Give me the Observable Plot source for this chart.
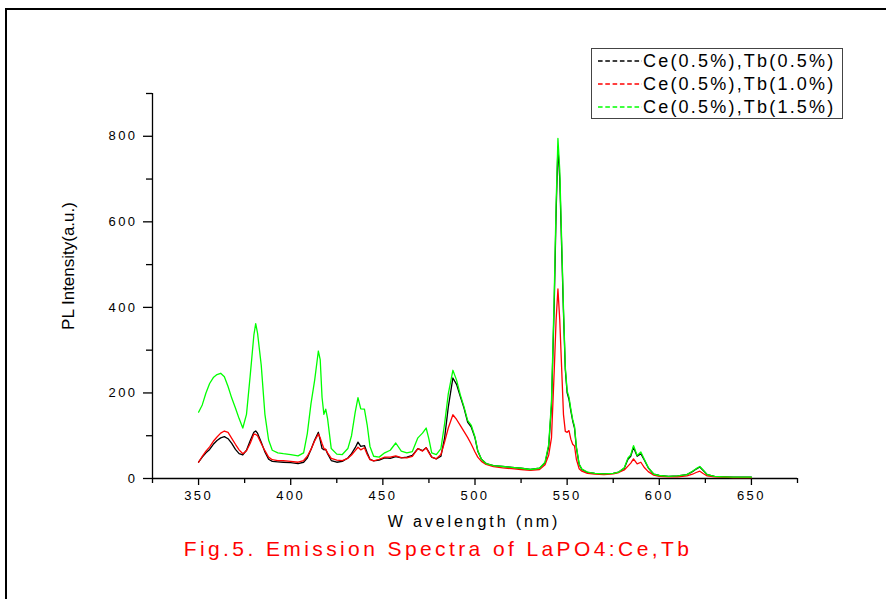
<!DOCTYPE html>
<html><head><meta charset="utf-8">
<script src="https://cdn.jsdelivr.net/npm/d3@7"></script>
<script src="https://cdn.jsdelivr.net/npm/@observablehq/plot@0.6"></script>
<style>
body{margin:0;background:#fff;font-family:"Liberation Sans",Arial,sans-serif;}
#wrap{position:relative;width:886px;height:599px;overflow:hidden;background:#fff;}
#frame{position:absolute;left:5px;top:8px;width:900px;height:620px;border-top:2px solid #000;border-left:2px solid #000;}
#chart{position:absolute;left:0;top:0;}
#chart svg g[aria-label="x-axis tick label"] text,#chart svg g[aria-label="y-axis tick label"] text{letter-spacing:2.4px;}
#ylab{position:absolute;left:69px;top:266px;transform:translate(-50%,-50%) rotate(-90deg);font-size:17px;white-space:nowrap;color:#000;}
#xlab{position:absolute;left:474px;top:513px;transform:translateX(-50%);font-size:16px;letter-spacing:2.9px;white-space:nowrap;color:#000;}
#caption{position:absolute;left:438px;top:537px;transform:translateX(-50%);font-size:21px;letter-spacing:3.4px;white-space:nowrap;color:#ff0000;}
#legend{position:absolute;left:591px;top:48px;width:252px;height:71px;border:1px solid #444;background:#fff;box-sizing:border-box;}
#legend .row{position:absolute;left:5px;height:22px;display:flex;align-items:center;font-size:18px;letter-spacing:2.2px;white-space:nowrap;color:#000;}
#legend svg{margin-right:1px;}
</style></head>
<body>
<div id="wrap">
  <div id="frame"></div>
  <div id="chart"></div>
  <div id="ylab">PL Intensity(a.u.)</div>
  <div id="xlab">W avelength (nm)</div>
  <div id="caption">Fig.5. Emission Spectra of LaPO4:Ce,Tb</div>
  <div id="legend"></div>
</div>
<script>
// Wavelength (nm)
const wavelength = [
  350,352,354,356,358,360,362,364,366,368,
  370,372,374,376,378,380,381,382,384,386,
  388,390,393,396,400,404,407,409,411,413,
  415,416,417,418,419,420,422,425,428,431,
  433,435,436.5,438,440,441.5,443,445,448,451,
  454,457,460,463,466,469,471.5,473.5,475,476.5,
  479,481.5,483.5,485.5,488,490,492,494,496,498,
  500,501.5,503.5,506,510,515,520,525,530,535,
  538,540,541.5,543,544,545,546,547,548,549,
  550,551,552,553,554,555,556.5,558,561,565,
  570,575,578,581,583,584.5,586,588,590,592,
  594,597,600,605,610,615,618,620,622,624,
  626,630,635,640,645,650
];
// Ce(0.5%),Tb(0.5%)
const tb05 = [
  38,50,60,68,80,89,95,98,93,82,
  68,58,55,66,88,108,111,106,85,62,
  45,40,39,38,37,35,38,48,68,90,
  108,90,70,67,68,58,42,38,40,48,
  58,72,85,75,77,60,45,41,43,48,
  47,51,48,50,54,70,65,72,62,50,
  46,52,95,167,235,220,192,165,132,120,
  95,64,45,35,30,28,26,24,21,24,
  36,75,170,410,620,775,700,545,390,255,
  200,185,158,135,118,72,33,21,14,12,
  11,12,15,24,45,52,73,52,58,42,
  25,10,7,5,6,9,16,22,27,18,
  9,5,4,3,3,3
];
// Ce(0.5%),Tb(1.0%)
const tb10 = [
  38,52,64,74,87,97,106,111,108,94,
  80,67,58,65,82,104,103,100,82,65,
  50,44,42,42,40,38,42,52,68,88,
  104,95,82,70,68,60,47,43,42,47,
  55,65,73,67,72,56,44,41,45,50,
  50,53,49,48,52,70,64,72,60,50,
  46,56,85,118,149,138,124,110,96,80,
  62,50,40,33,28,25,23,21,19,21,
  32,55,95,253,370,443,370,260,150,110,
  108,112,92,80,76,45,23,17,12,10,
  9,11,14,20,29,36,46,34,38,25,
  16,8,5,4,4,6,10,14,17,11,
  6,4,3,2,2,2
];
// Ce(0.5%),Tb(1.5%)
const tb15 = [
  155,172,200,222,236,243,246,238,215,188,
  165,140,118,150,240,335,362,340,265,150,
  90,66,60,58,56,53,60,105,175,230,
  298,278,190,150,162,140,70,57,56,70,
  100,155,189,163,162,125,75,52,50,60,
  66,83,64,60,63,95,106,118,92,60,
  56,70,128,198,253,230,196,168,136,124,
  97,65,45,35,30,28,26,24,21,24,
  38,80,180,430,640,795,720,560,400,260,
  205,190,162,138,122,75,34,22,15,12,
  11,12,15,25,48,55,77,54,62,44,
  26,10,7,5,6,9,17,23,28,19,
  9,5,4,3,3,3
];
const seriesNames = ["Ce(0.5%),Tb(0.5%)", "Ce(0.5%),Tb(1.0%)", "Ce(0.5%),Tb(1.5%)"];
const seriesColors = ["#000000", "#ff0000", "#00ff00"];
const seriesValues = [tb05, tb10, tb15];
const xTicks = [350,400,450,500,550,600,650];
const xMinorTicks = [325,375,425,475,525,575,625,675];
const yTicks = [0,200,400,600,800];
const yMinorTicks = [100,300,500,700,900];

const lines = seriesValues.map((vals, k) =>
  Plot.line(wavelength.map((w, i) => ({w, v: vals[i]})), {
    x: "w", y: "v", stroke: seriesColors[k], strokeWidth: 1.3
  })
);

const chart = Plot.plot({
  width: 886, height: 540,
  marginLeft: 152, marginRight: 89, marginTop: 93, marginBottom: 62,
  x: {domain: [325, 675]},
  y: {domain: [0, 900]},
  style: {fontFamily: "'Liberation Sans', Arial, sans-serif", fontSize: "13px", color: "#000", background: "transparent", overflow: "visible"},
  marks: [
    Plot.axisX({ticks: xMinorTicks, tickSize: 5, tickFormat: () => "", label: null, strokeWidth: 1.3}),
    Plot.axisX({ticks: xTicks, tickSize: 7, tickPadding: 5, label: null, strokeWidth: 1.3, fontSize: 13}),
    Plot.axisY({ticks: yMinorTicks, tickSize: 6, tickFormat: () => "", label: null, strokeWidth: 1.3}),
    Plot.axisY({ticks: yTicks, tickSize: 9, tickPadding: 6, label: null, strokeWidth: 1.3, fontSize: 13}),
    Plot.ruleY([0], {strokeWidth: 1.3}),
    Plot.ruleX([325], {strokeWidth: 1.3}),
    ...lines
  ]
});
document.getElementById("chart").appendChild(chart);

// legend
const legend = document.getElementById("legend");
const rowTops = [1, 24, 47];
seriesNames.forEach((name, k) => {
  const row = document.createElement("div");
  row.className = "row";
  row.style.top = rowTops[k] + "px";
  row.innerHTML = `<svg width="45" height="10"><line x1="1" y1="5" x2="45" y2="5" stroke="${seriesColors[k]}" stroke-width="1.3" stroke-dasharray="4.6,2.7"/></svg><span>${name}</span>`;
  legend.appendChild(row);
});
</script>
</body></html>
